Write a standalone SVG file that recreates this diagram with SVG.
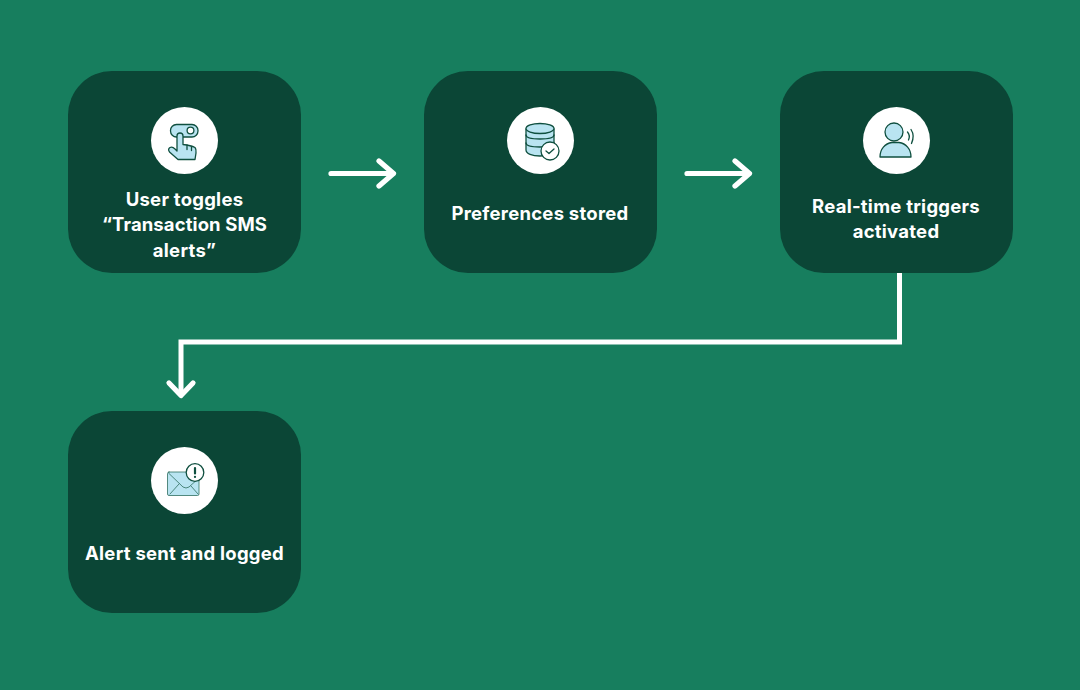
<svg xmlns="http://www.w3.org/2000/svg" width="1080" height="690" viewBox="0 0 1080 690">
<style>
.card{fill:#0b4636}
.disc{fill:#fff}
.t{font-family:"Inter","Liberation Sans",sans-serif;font-size:18.500px;font-weight:700;letter-spacing:.25px;fill:#fff;text-anchor:middle}
.i{fill:#b9e4f1;stroke:#0f4f3f;stroke-width:1.300;stroke-linejoin:round;stroke-linecap:round}
.n{fill:none;stroke:#0f4f3f;stroke-width:1.300;stroke-linejoin:round;stroke-linecap:round}
.thin{stroke-width:.8px;stroke:#2f6f60}
.dot{stroke-width:2.200px}
.c{fill:none;stroke:#fff;stroke-width:5.200;stroke-linecap:round;stroke-linejoin:round}
.e{fill:none;stroke:#fff;stroke-width:5;stroke-linecap:butt;stroke-linejoin:miter}
</style>
<rect width="1080" height="690" fill="#177e5e"/>
<g id="connectors">
<path class="c" d="M331 173.500H393M379 161L393.500 173.500L379 186"/>
<path class="c" d="M687 173.500H749M735 161L749.500 173.500L735 186"/>
<path class="e" d="M899.500 273V342H181V393"/>
<path class="c" d="M169 383L181 395.500L193 383"/>
</g>
<g id="node-toggle">
<rect class="card" x="68" y="71" width="233" height="202" rx="44"/>
<circle class="disc" cx="184.500" cy="140.500" r="33.500"/>
<rect class="i" x="170.500" y="124.500" width="27.500" height="12.500" rx="6"/>
<circle cx="190.500" cy="130.500" r="3.400" fill="#fff" stroke="#0f4f3f" stroke-width="1.300"/>
<path class="i" d="M178 159.500L169.500 152Q167.500 149 170 147.500Q172.500 146.500 175 149L177 151V136Q177 133 180 133Q183 133 183 136V144.500Q191 145.500 195 147.500Q196.500 149 196 153L195 159.500Z"/>
<path class="n" d="M187 145V149.500M191.500 146.500V150.500"/>
</g>
<g id="node-store">
<rect class="card" x="424" y="71" width="233" height="202" rx="44"/>
<circle class="disc" cx="540.500" cy="140.500" r="33.500"/>
<path class="i" d="M526 129V150C526 153.500 532 156 540 156C548 156 554 153.500 554 150V129Z"/>
<ellipse class="i" cx="540" cy="128.500" rx="14" ry="5"/>
<path class="n" d="M526 135C526 137.500 532 139 540 139C548 139 554 137.500 554 135M526 143C526 145.500 532 147 540 147C548 147 554 145.500 554 143"/>
<circle cx="550" cy="151" r="9" fill="#fff" stroke="#0f4f3f" stroke-width="1.300"/>
<path class="n" d="M546 151L549 153.500L554 149"/>
</g>
<g id="node-triggers">
<rect class="card" x="780" y="71" width="233" height="202" rx="44"/>
<circle class="disc" cx="896.500" cy="140.500" r="33.500"/>
<circle class="i" cx="894" cy="132" r="9"/>
<path class="i" d="M880 157C880 149 885 143.500 892 142.500H899C906 143.500 911 149 911 157Z"/>
<path class="n" d="M907.500 132Q910.500 135.500 908.500 140M911 129.500Q915 135.500 911.500 143.500"/>
</g>
<g id="node-alert">
<rect class="card" x="68" y="411" width="233" height="202" rx="44"/>
<circle class="disc" cx="184.500" cy="480.500" r="33.500"/>
<rect class="i thin" x="167.500" y="472" width="31.500" height="23.500" rx="1.500"/>
<path class="n thin" d="M168.500 473L183 487Q186 489 189 487L199 478M170 494L179 484M198 494L191 486"/>
<circle cx="195" cy="472.500" r="8.800" fill="#fff" stroke="#0f4f3f" stroke-width="1.300"/>
<path class="n dot" d="M195 468V473.500M195 476.800V476.900"/>
</g>
<g id="labels">
<text class="t" x="184.500" y="205.500">User toggles</text>
<text class="t" x="184.500" y="231" style="letter-spacing:.1px">“Transaction SMS</text>
<text class="t" x="184.500" y="256.500">alerts”</text>
<text class="t" x="540" y="219.500">Preferences stored</text>
<text class="t" x="896" y="212.500">Real-time triggers</text>
<text class="t" x="896" y="237.500">activated</text>
<text class="t" x="184.500" y="559.500">Alert sent and logged</text>
</g>
</svg>
